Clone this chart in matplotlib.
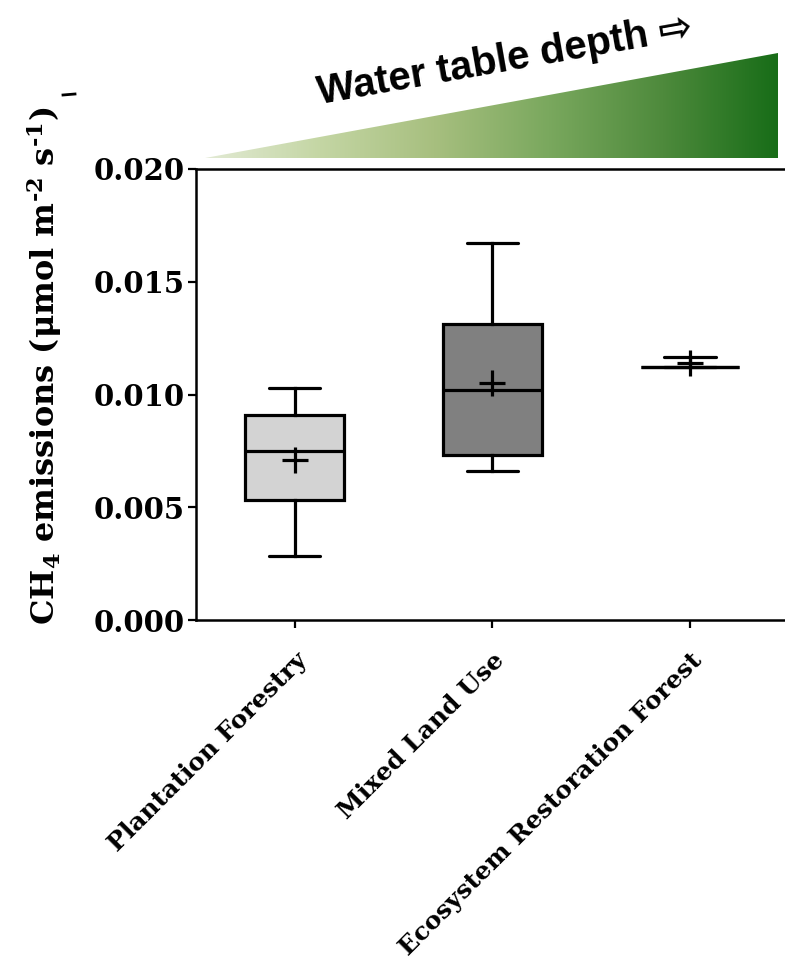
import matplotlib.pyplot as plt
import numpy as np
from matplotlib.patches import Polygon
from matplotlib.colors import LinearSegmentedColormap

plt.rcParams["mathtext.default"] = "regular"

sites = ["Plantation Forestry", "Mixed Land Use", "Ecosystem Restoration Forest"]
whis_lo = [0.00285, 0.00662, 0.01123]
q1 = [0.00532, 0.00732, 0.01123]
median = [0.00749, 0.01020, 0.01123]
q3 = [0.00909, 0.01313, 0.01123]
whis_hi = [0.01027, 0.01673, 0.01168]
mean = [0.00710, 0.01050, 0.01138]
box_colors = ["#d3d3d3", "#808080", "#ffffff"]

serif = "DejaVu Serif"

fig = plt.figure(figsize=(7.85, 9.58), dpi=100)
ax = fig.add_axes([0.2497, 0.3528, 0.755, 0.4708])

stats = []
for i in range(len(sites)):
    stats.append(dict(whislo=whis_lo[i], q1=q1[i], med=median[i], q3=q3[i],
                      whishi=whis_hi[i], mean=mean[i], label=sites[i]))

lw = 2.3
bp = ax.bxp(stats, positions=[1, 2, 3], widths=0.5, patch_artist=True,
            showmeans=True, showfliers=False,
            boxprops=dict(linewidth=lw, edgecolor="black"),
            medianprops=dict(linewidth=lw, color="black"),
            whiskerprops=dict(linewidth=lw, color="black"),
            capprops=dict(linewidth=lw, color="black"),
            meanprops=dict(marker="+", markersize=19, markeredgewidth=lw,
                           markeredgecolor="black"))
for patch, c in zip(bp["boxes"], box_colors):
    patch.set_facecolor(c)
for cap in bp["caps"]:
    x = cap.get_xdata()
    mid = x.mean()
    cap.set_xdata([mid - 0.13, mid + 0.13])
    cap.set_solid_capstyle("round")

ax.set_xlim(0.5, 3.5)
ax.set_ylim(0, 0.020)
ax.set_yticks([0, 0.005, 0.010, 0.015, 0.020])
ax.set_yticklabels(["0.000", "0.005", "0.010", "0.015", "0.020"],
                   fontfamily=serif, fontweight="bold", fontsize=21)
ax.set_xticks([1, 2, 3])
ax.set_xticklabels(sites, rotation=45, ha="right", va="top",
                   rotation_mode="anchor", fontfamily=serif,
                   fontweight="bold", fontsize=18)
ax.tick_params(axis="both", width=1.6, length=6, color="black")
ax.tick_params(axis="x", pad=14)
ax.tick_params(axis="y", pad=2)
ax.spines["right"].set_visible(False)
for s in ["left", "bottom", "top"]:
    ax.spines[s].set_linewidth(1.8)

fig.text(0.057, 0.618, "CH$_4$ emissions (μmol m$^{\u2010 2}$ s$^{\u2010 1}$)",
         rotation=90, ha="center", va="center", fontfamily=serif,
         fontweight="bold", fontsize=23)

# gradient wedge above the plot
top = fig.add_axes([0, 0, 1, 1], zorder=-1)
top.set_xlim(0, 785)
top.set_ylim(958, 0)
top.axis("off")
cmap = LinearSegmentedColormap.from_list(
    "wt", ["#e2eAd4", "#c4d6a4", "#a7bf7f", "#7aa85e", "#4e8a3c", "#186d18"])
grad = np.linspace(0, 1, 256).reshape(1, -1)
im = top.imshow(grad, cmap=cmap, extent=[205, 778, 158, 53], aspect="auto")
wedge = Polygon([[205, 158], [778, 158], [778, 53]], closed=True,
                transform=top.transData, facecolor="none", edgecolor="none")
top.add_patch(wedge)
im.set_clip_path(wedge)
top.text(505, 60, "Water table depth ⇨", rotation=10, ha="center",
         va="center", fontsize=29, fontweight="bold",
         fontfamily=["Liberation Sans", "DejaVu Sans"])
top.plot([63, 75], [95, 94], color="black", lw=2)

fig.savefig("out.png", dpi=100)
